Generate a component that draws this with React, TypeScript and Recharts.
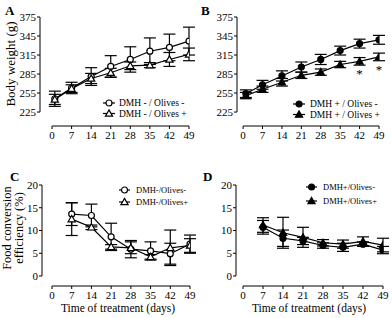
import React from 'react';
import { LineChart, Line, XAxis, YAxis, ErrorBar, ReferenceLine, Legend, LabelList } from 'recharts';

const FONT = "'Liberation Serif', 'Times New Roman', Times, serif";

// ---------- data ----------
const daysAB = [1, 7, 14, 21, 28, 35, 42, 49];
const daysCD = [7, 14, 21, 28, 35, 42, 49];
const xTicks = [0, 7, 14, 21, 28, 35, 42, 49];
const bwTicks = [225, 255, 285, 315, 345, 375];
const fceTicks = [0, 5, 10, 15, 20];

// Panel A: body weight, DMH -
const bwA_oliveNeg = [246, 263, 281, 297, 308, 321, 327, 337];
const bwA_oliveNegErr = [12, 9, 14, 17, 20, 21, 21, 22];
const bwA_olivePos = [245, 262, 278, 287, 298, 299, 308, 316];
const bwA_olivePosErr = [8, 6, 8, 7, 6, 4, 11, 10];

// Panel B: body weight, DMH +
const bwB_oliveNeg = [254, 268, 282, 296, 308, 322, 333, 339];
const bwB_oliveNegErr = [6, 7, 8, 8, 8, 7, 7, 7];
const bwB_olivePos = [251, 261, 272, 283, 288, 300, 305, 312];
const bwB_olivePosErr = [5, 5, 6, 5, 5, 5, 6, 6];
const bwB_sig = ['', '', '', '', '', '', '*', '*'];

// Panel C: food conversion efficiency, DMH -
const fceC_oliveNeg = [13.6, 13.3, 8.6, 5.9, 5.5, 4.9, 7.0];
const fceC_oliveNegErr = [2.5, 2.5, 3.0, 1.9, 2.0, 2.3, 2.0];
const fceC_olivePos = [12.5, 10.7, 6.4, 6.2, 4.2, 6.2, 6.7];
const fceC_olivePosErr = [3.6, 0.5, 0.5, 1.3, 0.5, 3.9, 1.5];

// Panel D: food conversion efficiency, DMH +
const fceD_oliveNeg = [10.7, 8.3, 7.7, 6.7, 6.3, 7.0, 5.7];
const fceD_oliveNegErr = [1.5, 1.8, 0.8, 0.6, 0.9, 0.5, 0.8];
const fceD_olivePos = [11.2, 9.5, 8.5, 7.3, 7.0, 7.6, 6.8];
const fceD_olivePosErr = [1.6, 3.4, 2.2, 0.7, 0.9, 1.0, 1.5];

const buildRows = (days: number[], a: number[], ae: number[], b: number[], be: number[], sig?: string[]) =>
  days.map((d, i) => ({ day: d, s1: a[i], e1: ae[i], s2: b[i], e2: be[i], sig: sig ? sig[i] : '' }));

const dataA = buildRows(daysAB, bwA_oliveNeg, bwA_oliveNegErr, bwA_olivePos, bwA_olivePosErr);
const dataB = buildRows(daysAB, bwB_oliveNeg, bwB_oliveNegErr, bwB_olivePos, bwB_olivePosErr, bwB_sig);
const dataC = buildRows(daysCD, fceC_oliveNeg, fceC_oliveNegErr, fceC_olivePos, fceC_olivePosErr);
const dataD = buildRows(daysCD, fceD_oliveNeg, fceD_oliveNegErr, fceD_olivePos, fceD_olivePosErr);

// ---------- drawing ----------
type Shape = 'circle' | 'triangle';
interface Series { key: string; err: string; name: string; shape: Shape; filled: boolean; sig?: boolean }

function Marker({ cx, cy, shape, filled }: { cx: number; cy: number; shape: Shape; filled: boolean }) {
  if (cx == null || cy == null || isNaN(cx) || isNaN(cy)) return null;
  const fill = filled ? '#000' : '#fff';
  if (shape === 'circle') {
    return <circle cx={cx} cy={cy} r={3} fill={fill} stroke="#000" strokeWidth={1.2} />;
  }
  const s = 3.6;
  return (
    <polygon
      points={`${cx},${cy - s} ${cx + s},${cy + s * 0.75} ${cx - s},${cy + s * 0.75}`}
      fill={fill}
      stroke="#000"
      strokeWidth={1.2}
      strokeLinejoin="miter"
    />
  );
}

interface LegendCfg { left: number; top: number; rowGap: number; fontSize: number; lineLen: number; textX: number }

interface PanelCfg {
  left: number; top: number; width: number; height: number;
  data: any[]; series: Series[];
  xMin: number; xMax: number; yDomain: [number, number]; yTicks: number[];
  margin: { top: number; right: number; bottom: number; left: number };
  yAxisWidth: number; xAxisHeight: number;
  yTitle?: { lines: string[]; xs: number[]; y: number; size: number };
  xTitle?: { text: string; x: number; y: number; size: number };
  legend: LegendCfg;
}

function Panel({ cfg }: { cfg: PanelCfg }) {
  const { yDomain, yTicks, xMin, xMax } = cfg;
  const yLo = yTicks[0];
  const yHi = yTicks[yTicks.length - 1];
  const lg = cfg.legend;
  const legendContent = () => (
    <svg width={120} height={lg.rowGap * 2 + 6} style={{ display: 'block', overflow: 'visible' }}>
      {cfg.series.map((s, i) => {
        const y = 6 + i * lg.rowGap;
        return (
          <g key={s.key}>
            <line x1={0} x2={lg.lineLen} y1={y} y2={y} stroke="#000" strokeWidth={1.2} />
            <Marker cx={lg.lineLen / 2} cy={y} shape={s.shape} filled={s.filled} />
            <text x={lg.textX} y={y + lg.fontSize * 0.34} fontSize={lg.fontSize} fontFamily={FONT} style={{ fontFamily: FONT }} fill="#000">
              {s.name}
            </text>
          </g>
        );
      })}
    </svg>
  );
  const yt = cfg.yTitle;
  const xt = cfg.xTitle;
  return (
    <div style={{ position: 'absolute', left: cfg.left, top: cfg.top, width: cfg.width, height: cfg.height }}>
      <LineChart width={cfg.width} height={cfg.height} data={cfg.data} margin={cfg.margin} style={{ fontFamily: FONT }}>
        <XAxis
          dataKey="day"
          type="number"
          domain={[xMin, xMax]}
          allowDataOverflow
          ticks={xTicks}
          interval={0}
          axisLine={false}
          tickLine={{ stroke: '#000', strokeWidth: 1 }}
          tickSize={3}
          tickMargin={2}
          height={cfg.xAxisHeight}
          tick={{ fontSize: 11, fill: '#000', fontFamily: FONT }}
          label={
            xt
              ? {
                  content: () => (
                    <text x={xt.x} y={xt.y} textAnchor="middle" fontSize={xt.size} fontFamily={FONT} fill="#000">
                      {xt.text}
                    </text>
                  ),
                }
              : undefined
          }
        />
        <YAxis
          type="number"
          domain={yDomain}
          allowDataOverflow
          ticks={yTicks}
          interval={0}
          axisLine={false}
          tickLine={{ stroke: '#000', strokeWidth: 1 }}
          tickSize={3}
          tickMargin={1}
          width={cfg.yAxisWidth}
          tick={{ fontSize: 11, fill: '#000', fontFamily: FONT }}
          label={
            yt
              ? {
                  content: () => (
                    <g>
                      {yt.lines.map((ln, i) => (
                        <text
                          key={i}
                          x={yt.xs[i]}
                          y={yt.y}
                          transform={`rotate(-90 ${yt.xs[i]} ${yt.y})`}
                          textAnchor="middle"
                          dominantBaseline="central"
                          fontSize={yt.size}
                          fontFamily={FONT}
                          fill="#000"
                        >
                          {ln}
                        </text>
                      ))}
                    </g>
                  ),
                }
              : undefined
          }
        />
        <ReferenceLine
          segment={[{ x: xMin, y: yLo }, { x: xMin, y: yHi }]}
          stroke="#000"
          strokeWidth={1}
          ifOverflow="visible"
        />
        <ReferenceLine
          segment={[{ x: 0, y: yDomain[0] }, { x: xMax, y: yDomain[0] }]}
          stroke="#000"
          strokeWidth={1}
          ifOverflow="visible"
        />
        {/* error bars first, on invisible carrier lines, so markers sit on top */}
        {cfg.series.map((s) => (
          <Line
            key={`${s.key}-err`}
            dataKey={s.key}
            stroke="none"
            dot={false}
            activeDot={false}
            legendType="none"
            isAnimationActive={false}
          >
            <ErrorBar dataKey={s.err} width={6} stroke="#000" strokeWidth={1.2} direction="y" />
          </Line>
        ))}
        {cfg.series.map((s) => (
          <Line
            key={s.key}
            dataKey={s.key}
            name={s.name}
            stroke="#000"
            strokeWidth={1.2}
            isAnimationActive={false}
            dot={(p: any) => (
              <g key={`${s.key}-${p.index}`}>
                <Marker cx={p.cx} cy={p.cy} shape={s.shape} filled={s.filled} />
              </g>
            )}
            activeDot={false}
          >
            {s.sig ? (
              <LabelList
                dataKey="sig"
                content={(p: any) =>
                  p.value ? (
                    <text
                      x={p.x}
                      y={p.y + 17}
                      textAnchor="middle"
                      fontSize={13}
                      fontFamily={FONT}
                      fill="#000"
                    >
                      {p.value}
                    </text>
                  ) : null
                }
              />
            ) : null}
          </Line>
        ))}
        <Legend
          layout="horizontal"
          verticalAlign="middle"
          align="center"
          content={legendContent}
          wrapperStyle={{ left: lg.left, top: lg.top, width: 120, height: lg.rowGap * 2 + 6 }}
        />
      </LineChart>
    </div>
  );
}

const panels: PanelCfg[] = [
  {
    left: 0, top: 0, width: 196, height: 160,
    data: dataA,
    series: [
      { key: 's1', err: 'e1', name: 'DMH - / Olives -', shape: 'circle', filled: false },
      { key: 's2', err: 'e2', name: 'DMH - / Olives +', shape: 'triangle', filled: false },
    ],
    xMin: -4.3, xMax: 49, yDomain: [203, 375], yTicks: bwTicks,
    margin: { top: 17, right: 7, bottom: 10, left: 0 }, yAxisWidth: 40, xAxisHeight: 24,
    yTitle: { lines: ['Body weight (g)'], xs: [10], y: 64, size: 13 },
    legend: { left: 103, top: 97, rowGap: 10.5, fontSize: 9.5, lineLen: 12, textX: 16 },
  },
  {
    left: 196, top: 0, width: 196, height: 160,
    data: dataB,
    series: [
      { key: 's1', err: 'e1', name: 'DMH + / Olives -', shape: 'circle', filled: true },
      { key: 's2', err: 'e2', name: 'DMH + / Olives +', shape: 'triangle', filled: true, sig: true },
    ],
    xMin: -2.2, xMax: 49, yDomain: [203, 375], yTicks: bwTicks,
    margin: { top: 17, right: 13, bottom: 10, left: 0 }, yAxisWidth: 41, xAxisHeight: 24,
    legend: { left: 97, top: 98, rowGap: 10.5, fontSize: 9.5, lineLen: 12, textX: 17 },
  },
  {
    left: 0, top: 160, width: 196, height: 158,
    data: dataC,
    series: [
      { key: 's1', err: 'e1', name: 'DMH-/Olives-', shape: 'circle', filled: false },
      { key: 's2', err: 'e2', name: 'DMH-/Olives+', shape: 'triangle', filled: false },
    ],
    xMin: -3.55, xMax: 49, yDomain: [-2.2, 20], yTicks: fceTicks,
    margin: { top: 25, right: 6, bottom: 0, left: 0 }, yAxisWidth: 42, xAxisHeight: 32,
    yTitle: { lines: ['Food conversion', 'efficiency (%)'], xs: [7, 19], y: 68, size: 12.5 },
    xTitle: { text: 'Time of treatment (days)', x: 118, y: 152, size: 11.5 },
    legend: { left: 119, top: 24, rowGap: 12, fontSize: 8.5, lineLen: 11, textX: 17 },
  },
  {
    left: 196, top: 160, width: 196, height: 158,
    data: dataD,
    series: [
      { key: 's1', err: 'e1', name: 'DMH+/Olives-', shape: 'circle', filled: true },
      { key: 's2', err: 'e2', name: 'DMH+/Olives+', shape: 'triangle', filled: true },
    ],
    xMin: -2.45, xMax: 49, yDomain: [-2.2, 20], yTicks: fceTicks,
    margin: { top: 25, right: 9, bottom: 0, left: 0 }, yAxisWidth: 40, xAxisHeight: 32,
    xTitle: { text: 'Time of treatment (days)', x: 113, y: 152, size: 11.5 },
    legend: { left: 110, top: 21, rowGap: 14, fontSize: 8.5, lineLen: 11, textX: 17 },
  },
];

const letters = [
  { t: 'A', x: 5, y: 15 },
  { t: 'B', x: 201, y: 15 },
  { t: 'C', x: 10, y: 181 },
  { t: 'D', x: 203, y: 181 },
];

export default function App() {
  return (
    <div style={{ position: 'absolute', left: 0, top: 0, width: 392, height: 318, background: '#fff', overflow: 'hidden' }}>
      {panels.map((p, i) => (
        <Panel key={i} cfg={p} />
      ))}
      <svg width={392} height={318} style={{ position: 'absolute', left: 0, top: 0, pointerEvents: 'none' }}>
        {letters.map((l) => (
          <text key={l.t} x={l.x} y={l.y} fontSize={13} fontWeight="bold" fontFamily={FONT} fill="#000">
            {l.t}
          </text>
        ))}
      </svg>
    </div>
  );
}
